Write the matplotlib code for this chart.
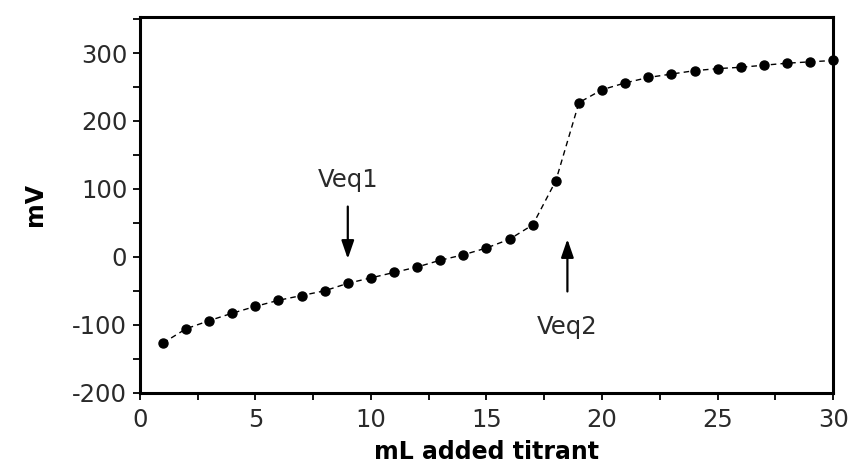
import matplotlib
matplotlib.use("Agg")
import matplotlib.pyplot as plt
from matplotlib.ticker import MultipleLocator

plt.rcParams['font.family'] = ['DejaVu Sans']
plt.rcParams['axes.unicode_minus'] = False

# titration data
ml_added = [1, 2, 3, 4, 5, 6, 7, 8, 9, 10, 11, 12, 13, 14, 15,
            16, 17, 18, 19, 20, 21, 22, 23, 24, 25, 26, 27, 28, 29, 30]
mv = [-127, -106, -94, -83, -73, -64, -57, -50, -39, -31, -23, -15, -5, 3, 13,
      26, 47, 112, 227, 246, 256, 264, 269, 274, 277, 279, 282, 285, 287, 289]

# equivalence point annotations: (label, x, arrow tail y, arrow tip y, label y)
veq1 = ("Veq1", 9.0, 74, -3, 113)
veq2 = ("Veq2", 18.5, -51, 26, -103)

fig = plt.figure(figsize=(8.52, 4.72), dpi=100)
ax = fig.add_axes([0.164, 0.168, 0.814, 0.796])

ax.plot(ml_added, mv, color='black', linestyle=(0, (4, 3)), linewidth=1.0,
        marker='o', markersize=6.5, markerfacecolor='black',
        markeredgecolor='black', clip_on=False)

for label, x, tail, tip, ty in (veq1, veq2):
    ax.annotate("", xy=(x, tip), xytext=(x, tail),
                arrowprops=dict(arrowstyle='-|>,head_length=1.1,head_width=0.38',
                                color='black', lw=1.6, shrinkA=0, shrinkB=0))
    ax.text(x, ty, label, ha='center', va='center', fontsize=17.5, color='#2a2a2a')

ax.set_xlim(0, 30)
ax.set_ylim(-200, 353)
ax.set_xticks([0, 5, 10, 15, 20, 25, 30])
ax.set_yticks([-200, -100, 0, 100, 200, 300])
ax.xaxis.set_minor_locator(MultipleLocator(2.5))
ax.yaxis.set_minor_locator(MultipleLocator(50))

for side in ax.spines.values():
    side.set_linewidth(2.2)
ax.tick_params(which='both', direction='out', length=5, width=1.3,
               labelsize=17.5, labelcolor='#2a2a2a')
ax.tick_params(axis='x', pad=6)
ax.tick_params(axis='y', pad=4)

ax.set_xlabel("mL added titrant", fontsize=17, fontweight='bold', labelpad=6)
ax.set_ylabel("mV", fontsize=17, fontweight='bold', labelpad=18)

fig.savefig("out.png", dpi=100)
